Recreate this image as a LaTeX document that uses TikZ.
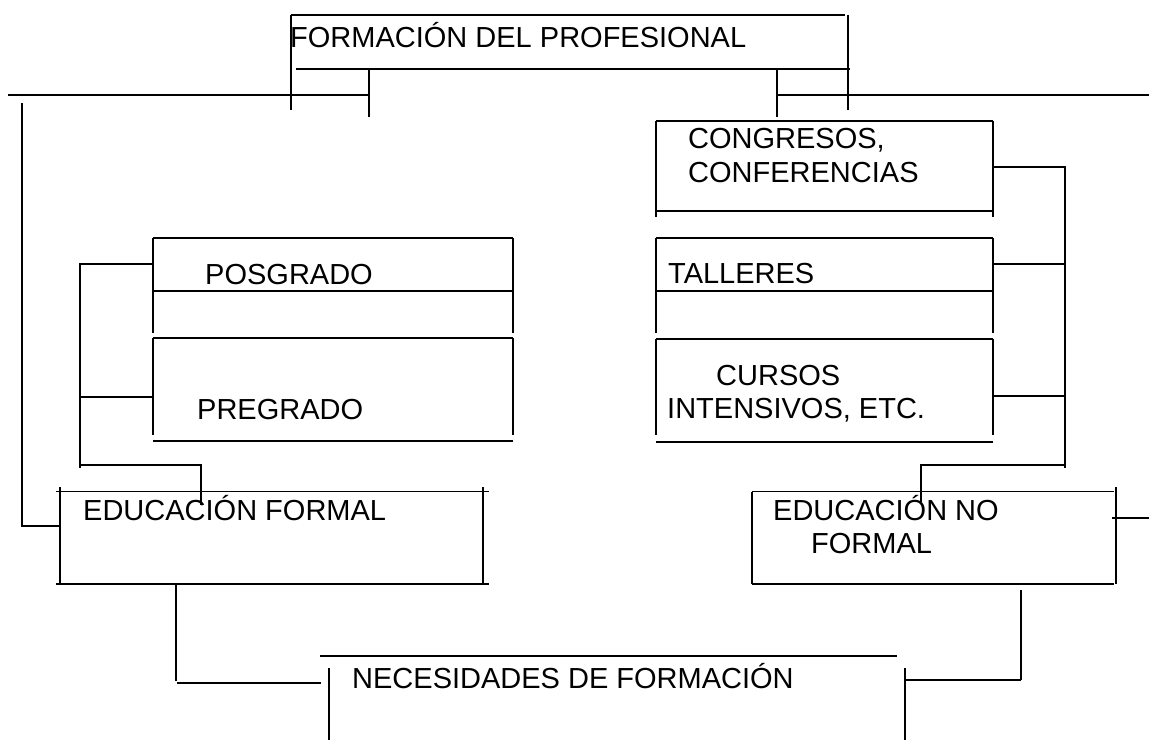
\documentclass[tikz,border=0pt]{standalone}
\usepackage{fontspec}
\setmainfont{Liberation Sans}
\begin{document}
\begin{tikzpicture}[x=1pt,y=-1pt,
  ln/.style={line width=1.9pt,black},
  lbl/.style={anchor=base west,inner sep=0pt,font=\fontsize{29}{33.5}\selectfont}]
\useasboundingbox[fill=white] (0,0) rectangle (1149,740);
% texts
\node[lbl] (title) at (290,47) {FORMACIÓN DEL PROFESIONAL};
\node[lbl] (cong1) at (688,148) {CONGRESOS,};
\node[lbl] (cong2) at (688,182) {CONFERENCIAS};
\node[lbl] (talleres) at (668,283) {TALLERES};
\node[lbl] (cursos1) at (716,385) {CURSOS};
\node[lbl] (cursos2) at (667,418) {INTENSIVOS, ETC.};
\node[lbl] (posgrado) at (205,284) {POSGRADO};
\node[lbl] (pregrado) at (197,419) {PREGRADO};
\node[lbl] (edf) at (83,520) {EDUCACIÓN FORMAL};
\node[lbl] (ednf1) at (773,520) {EDUCACIÓN NO};
\node[lbl] (ednf2) at (811,553) {FORMAL};
\node[lbl] (nec) at (352,688) {NECESIDADES DE FORMACIÓN};
% title box
\draw[ln] (291,15)--(845,15);
\draw[ln] (291,15)--(291,110);
\draw[ln] (848,15)--(848,110);
\draw[ln] (296,69)--(850,69);
\draw[ln] (369,69)--(369,117);
\draw[ln] (777,69)--(777,117);
\draw[ln] (8,95)--(369,95);
\draw[ln] (777,95)--(1149,95);
% left branch
\draw[ln] (22,103)--(22,526)--(60,526);
\draw[ln] (153,238)--(513,238);
\draw[ln] (153,238)--(153,333);
\draw[ln] (513,238)--(513,333);
\draw[ln] (153,291)--(513,291);
\draw[ln] (153,338)--(513,338);
\draw[ln] (153,338)--(153,435);
\draw[ln] (513,338)--(513,435);
\draw[ln] (153,441)--(513,441);
\draw[ln] (153,264)--(80,264)--(80,468);
\draw[ln] (80,397)--(153,397);
\draw[ln] (80,465)--(201,465)--(201,505);
% educacion formal
\draw[ln] (56,491.5)--(489,491.5);
\draw[ln] (60,487)--(60,584);
\draw[ln] (483,487)--(483,584);
\draw[ln] (56,584)--(489,584);
\draw[ln] (176,584)--(176,681);
\draw[ln] (177,683)--(321,683);
% necesidades
\draw[ln] (320,656)--(897,656);
\draw[ln] (329,668)--(329,740);
\draw[ln] (905,668)--(905,740);
\draw[ln] (905,680)--(1021,680);
\draw[ln] (1021,590)--(1021,680);
% right branch
\draw[ln] (656,121)--(993,121);
\draw[ln] (656,121)--(656,217);
\draw[ln] (993,121)--(993,217);
\draw[ln] (656,211)--(993,211);
\draw[ln] (993,167)--(1065,167)--(1065,468);
\draw[ln] (656,238)--(993,238);
\draw[ln] (656,238)--(656,333);
\draw[ln] (993,238)--(993,333);
\draw[ln] (656,291)--(993,291);
\draw[ln] (993,264)--(1065,264);
\draw[ln] (656,339)--(993,339);
\draw[ln] (656,339)--(656,435);
\draw[ln] (993,339)--(993,435);
\draw[ln] (656,442)--(993,442);
\draw[ln] (993,396)--(1065,396);
\draw[ln] (1065,465)--(921,465)--(921,502);
% educacion no formal
\draw[ln] (752,491.5)--(1114,491.5);
\draw[ln] (752,491.5)--(752,584);
\draw[ln] (752,584)--(1114,584);
\draw[ln] (1116,487)--(1116,584);
\draw[ln] (1112,518)--(1149,518);
\end{tikzpicture}
\end{document}
